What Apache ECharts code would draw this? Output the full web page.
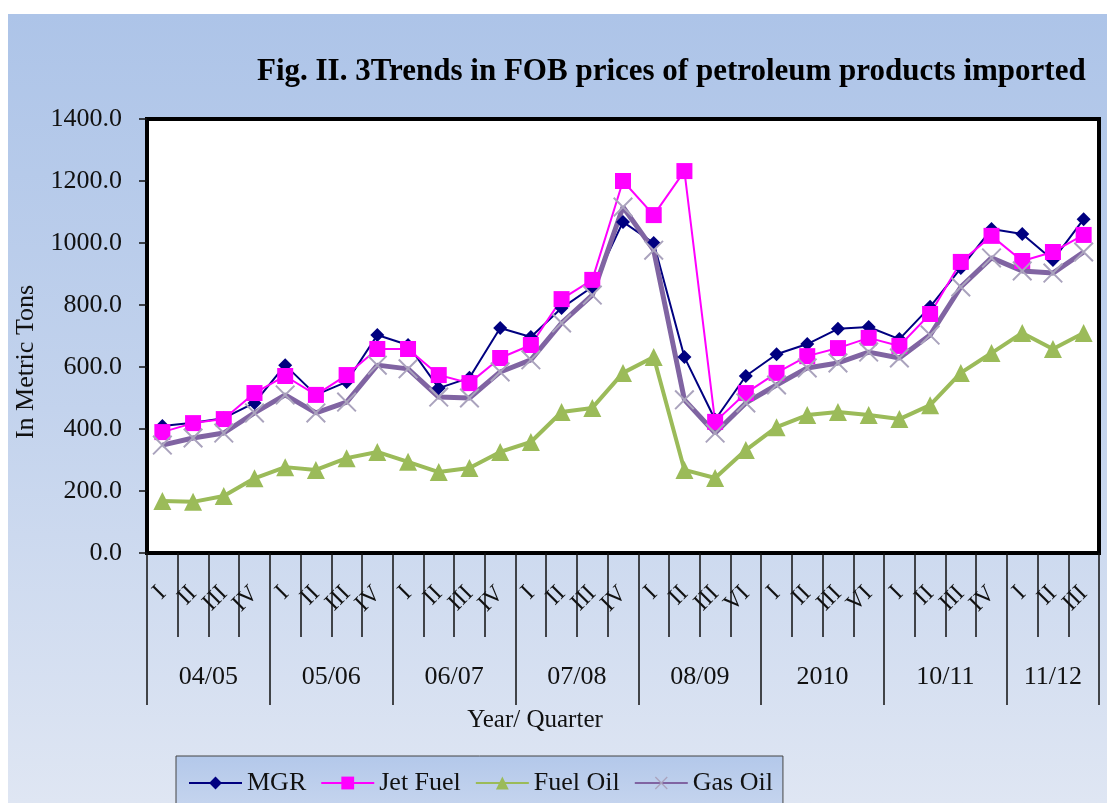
<!DOCTYPE html>
<html>
<head>
<meta charset="utf-8">
<script src="https://cdn.jsdelivr.net/npm/echarts@6/dist/echarts.min.js"></script>
<style>
  html, body { margin: 0; padding: 0; background: #fff; }
  .bg {
    position: absolute; left: 8px; top: 14px; right: 0; bottom: 0;
    background: linear-gradient(to bottom, #adc4e8 0%, #c3d3ed 50%, #dfe6f3 100%);
  }
  #chart { position: absolute; left: 0; top: 0; width: 1107px; height: 803px; }
</style>
</head>
<body>
<div class="bg"></div>
<div id="chart"></div>
<script>
// year groups and the quarter labels under each of them
const groups = ["04/05", "05/06", "06/07", "07/08", "08/09", "2010", "10/11", "11/12"];
const groupQuarters = [
  ["I", "II", "III", "IV"],
  ["I", "II", "III", "IV"],
  ["I", "II", "III", "IV"],
  ["I", "II", "III", "IV"],
  ["I", "II", "III", "VI"],
  ["I", "II", "III", "VI"],
  ["I", "II", "III", "IV"],
  ["I", "II", "III"]
];

// FOB prices, one value per quarter
const mgr     = [410, 420, 435, 484, 606, 510, 552, 703, 671, 532, 565, 726, 697, 790, 858, 1068, 1000, 632, 430, 571, 641, 674, 723, 729, 690, 794, 919, 1045, 1029, 945, 1077];
const jetFuel = [390, 419, 432, 516, 571, 510, 574, 658, 658, 574, 548, 629, 671, 819, 881, 1200, 1090, 1232, 423, 516, 581, 635, 661, 694, 668, 771, 939, 1023, 942, 971, 1026];
const fuelOil = [168, 165, 184, 241, 277, 268, 306, 326, 294, 261, 274, 326, 358, 455, 468, 581, 632, 268, 242, 332, 406, 445, 455, 445, 432, 477, 581, 645, 710, 658, 710];
const gasOil  = [348, 371, 387, 452, 510, 452, 487, 606, 594, 503, 500, 584, 623, 742, 832, 1116, 977, 494, 387, 484, 542, 597, 613, 648, 629, 703, 858, 952, 910, 903, 971];

// flat quarter list + group boundaries / centres (in quarter units)
const quarters = [];
const groupEdges = [0];
const groupCenters = [];
groupQuarters.forEach(function (q) {
  const start = quarters.length;
  q.forEach(function (s) { quarters.push(s); });
  groupEdges.push(quarters.length);
  groupCenters.push((start + quarters.length) / 2);
});

const FONT = "Liberation Serif";
const xMark = "path://M0,0.7L0.7,0L10,9.3L9.3,10Z M9.3,0L10,0.7L0.7,10L0,9.3Z";

const chart = echarts.init(document.getElementById("chart"));
chart.setOption({
  animation: false,
  backgroundColor: "transparent",
  textStyle: { fontFamily: FONT, color: "#111" },
  title: {
    text: "Fig. II. 3Trends in FOB prices of petroleum products imported",
    left: 252,
    top: 51,
    textStyle: { fontFamily: FONT, fontSize: 31, fontWeight: "bold", color: "#000" }
  },
  legend: {
    left: 176,
    top: 756,
    padding: [14, 10, 20, 12],
    itemGap: 14,
    itemWidth: 53,
    itemHeight: 16,
    borderColor: "#444",
    borderWidth: 1,
    backgroundColor: {
      type: "linear", x: 0, y: 0, x2: 0, y2: 1,
      colorStops: [{ offset: 0, color: "#b3c8ea" }, { offset: 1, color: "#c9d7ef" }]
    },
    textStyle: { fontFamily: FONT, fontSize: 26, color: "#111" },
    data: ["MGR", "Jet Fuel", "Fuel Oil", "Gas Oil"]
  },
  grid: {
    left: 147, right: 8, top: 119, bottom: 250,
    show: true,
    backgroundColor: "#fff",
    borderColor: "#000",
    borderWidth: 4
  },
  xAxis: [
    {
      type: "category",
      data: quarters,
      boundaryGap: true,
      position: "bottom",
      axisLine: { show: false },
      axisTick: { show: true, interval: 0, length: 84, lineStyle: { color: "#111", width: 1.5 } },
      axisLabel: { interval: 0, rotate: 45, margin: 37, fontFamily: FONT, fontSize: 24, color: "#111" },
      splitLine: { show: false }
    },
    {
      type: "value",
      min: 0,
      max: quarters.length,
      position: "bottom",
      name: "Year/ Quarter",
      nameLocation: "middle",
      nameGap: 155,
      nameTextStyle: { fontFamily: FONT, fontSize: 25, color: "#111", padding: [0, 176, 0, 0] },
      axisLine: { show: false },
      axisTick: { show: true, customValues: groupEdges, length: 152, lineStyle: { color: "#111", width: 1.5 } },
      axisLabel: {
        customValues: groupCenters,
        margin: 111,
        fontFamily: FONT, fontSize: 26, color: "#111",
        formatter: function (v) { return groups[groupCenters.indexOf(v)] || ""; }
      },
      splitLine: { show: false }
    }
  ],
  yAxis: {
    type: "value",
    min: 0,
    max: 1400,
    interval: 200,
    name: "In Metric Tons",
    nameLocation: "middle",
    nameGap: 93,
    nameTextStyle: { fontFamily: FONT, fontSize: 26, color: "#111", padding: [0, 52, 0, 0] },
    axisLine: { show: false },
    axisTick: { show: true, length: 8, lineStyle: { color: "#111", width: 1.5 } },
    axisLabel: {
      margin: 25, fontFamily: FONT, fontSize: 26, color: "#111",
      formatter: function (v) { return v.toFixed(1); }
    },
    splitLine: { show: false }
  },
  series: [
    {
      name: "MGR", type: "line", data: mgr,
      symbol: "diamond", symbolSize: 14,
      itemStyle: { color: "#000080" },
      lineStyle: { color: "#000080", width: 2 }
    },
    {
      name: "Jet Fuel", type: "line", data: jetFuel,
      symbol: "rect", symbolSize: 16,
      itemStyle: { color: "#ff00ff" },
      lineStyle: { color: "#ff00ff", width: 2 }
    },
    {
      name: "Fuel Oil", type: "line", data: fuelOil,
      symbol: "triangle", symbolSize: 18,
      itemStyle: { color: "#9bbb59" },
      lineStyle: { color: "#9bbb59", width: 4 }
    },
    {
      name: "Gas Oil", type: "line", data: gasOil,
      symbol: xMark, symbolSize: 20,
      itemStyle: { color: "#aaa3bd" },
      lineStyle: { color: "#8064a2", width: 5 }
    }
  ]
});
</script>
</body>
</html>
